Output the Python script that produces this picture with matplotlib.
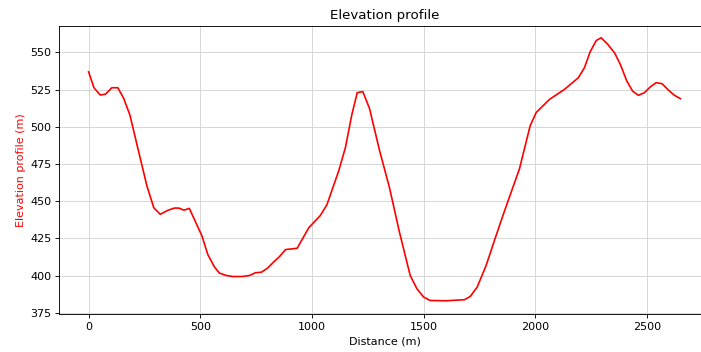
import matplotlib
matplotlib.use("Agg")
import matplotlib.pyplot as plt

distance = [0, 24, 52, 76, 104, 131, 157, 185, 218, 261, 292, 321, 355, 384, 404, 427, 451,
            507, 534, 564, 586, 616, 646, 688, 721, 746, 774, 801, 825, 855, 882, 934, 986,
            1037, 1067, 1120, 1150, 1179, 1203, 1228, 1258, 1303, 1347, 1392, 1440, 1470,
            1500, 1529, 1601, 1683, 1709, 1740, 1780, 1817, 1855, 1892, 1929, 1977, 2004,
            2064, 2131, 2158, 2193, 2220, 2246, 2273, 2295, 2325, 2355, 2381, 2410, 2436,
            2462, 2489, 2514, 2541, 2568, 2593, 2623, 2650]
elevation = [537, 526.3, 521.4, 522, 526.3, 526.3, 519.2, 508, 487.2, 460.4, 445.6, 441.2,
             443.9, 445.4, 445.4, 444, 445.2, 426.9, 414.1, 405.7, 401.7, 400.1, 399.4, 399.4,
             400.1, 401.9, 402.3, 405, 408.6, 412.8, 417.5, 418.4, 432.2, 440.3, 447.6, 470.4,
             486.1, 508.4, 523, 523.7, 512.3, 484, 459.3, 429.2, 400.1, 391.2, 385.6, 383.3,
             383.1, 383.8, 386, 392.3, 406.8, 423.5, 440.3, 456, 471.6, 500.6, 509.6, 518.5,
             525.2, 528.6, 533, 539.7, 550.5, 558, 559.9, 555.4, 549.8, 542, 530.8, 524,
             521.2, 523, 526.7, 529.7, 529, 525.2, 521.2, 519]

DPI = 80
fig = plt.figure(figsize=(701 / DPI, 352 / DPI), dpi=DPI)
ax = fig.add_axes([59/701, 38/352, 651/701, 288/352])
ax.plot(distance, elevation, color='red', linewidth=1.5)
ax.set_xlim(-132.5, 2782.5)
ax.set_ylim(374.2, 567.8)
ax.set_xticks([0, 500, 1000, 1500, 2000, 2500])
ax.set_yticks([375, 400, 425, 450, 475, 500, 525, 550])
ax.grid(True, color='#d3d3d3', linewidth=0.8)
ax.set_axisbelow(True)
ax.set_title('Elevation profile', fontsize=12)
ax.set_xlabel('Distance (m)')
ax.set_ylabel('Elevation profile (m)', color='red')
fig.savefig('out.png', dpi=DPI)
